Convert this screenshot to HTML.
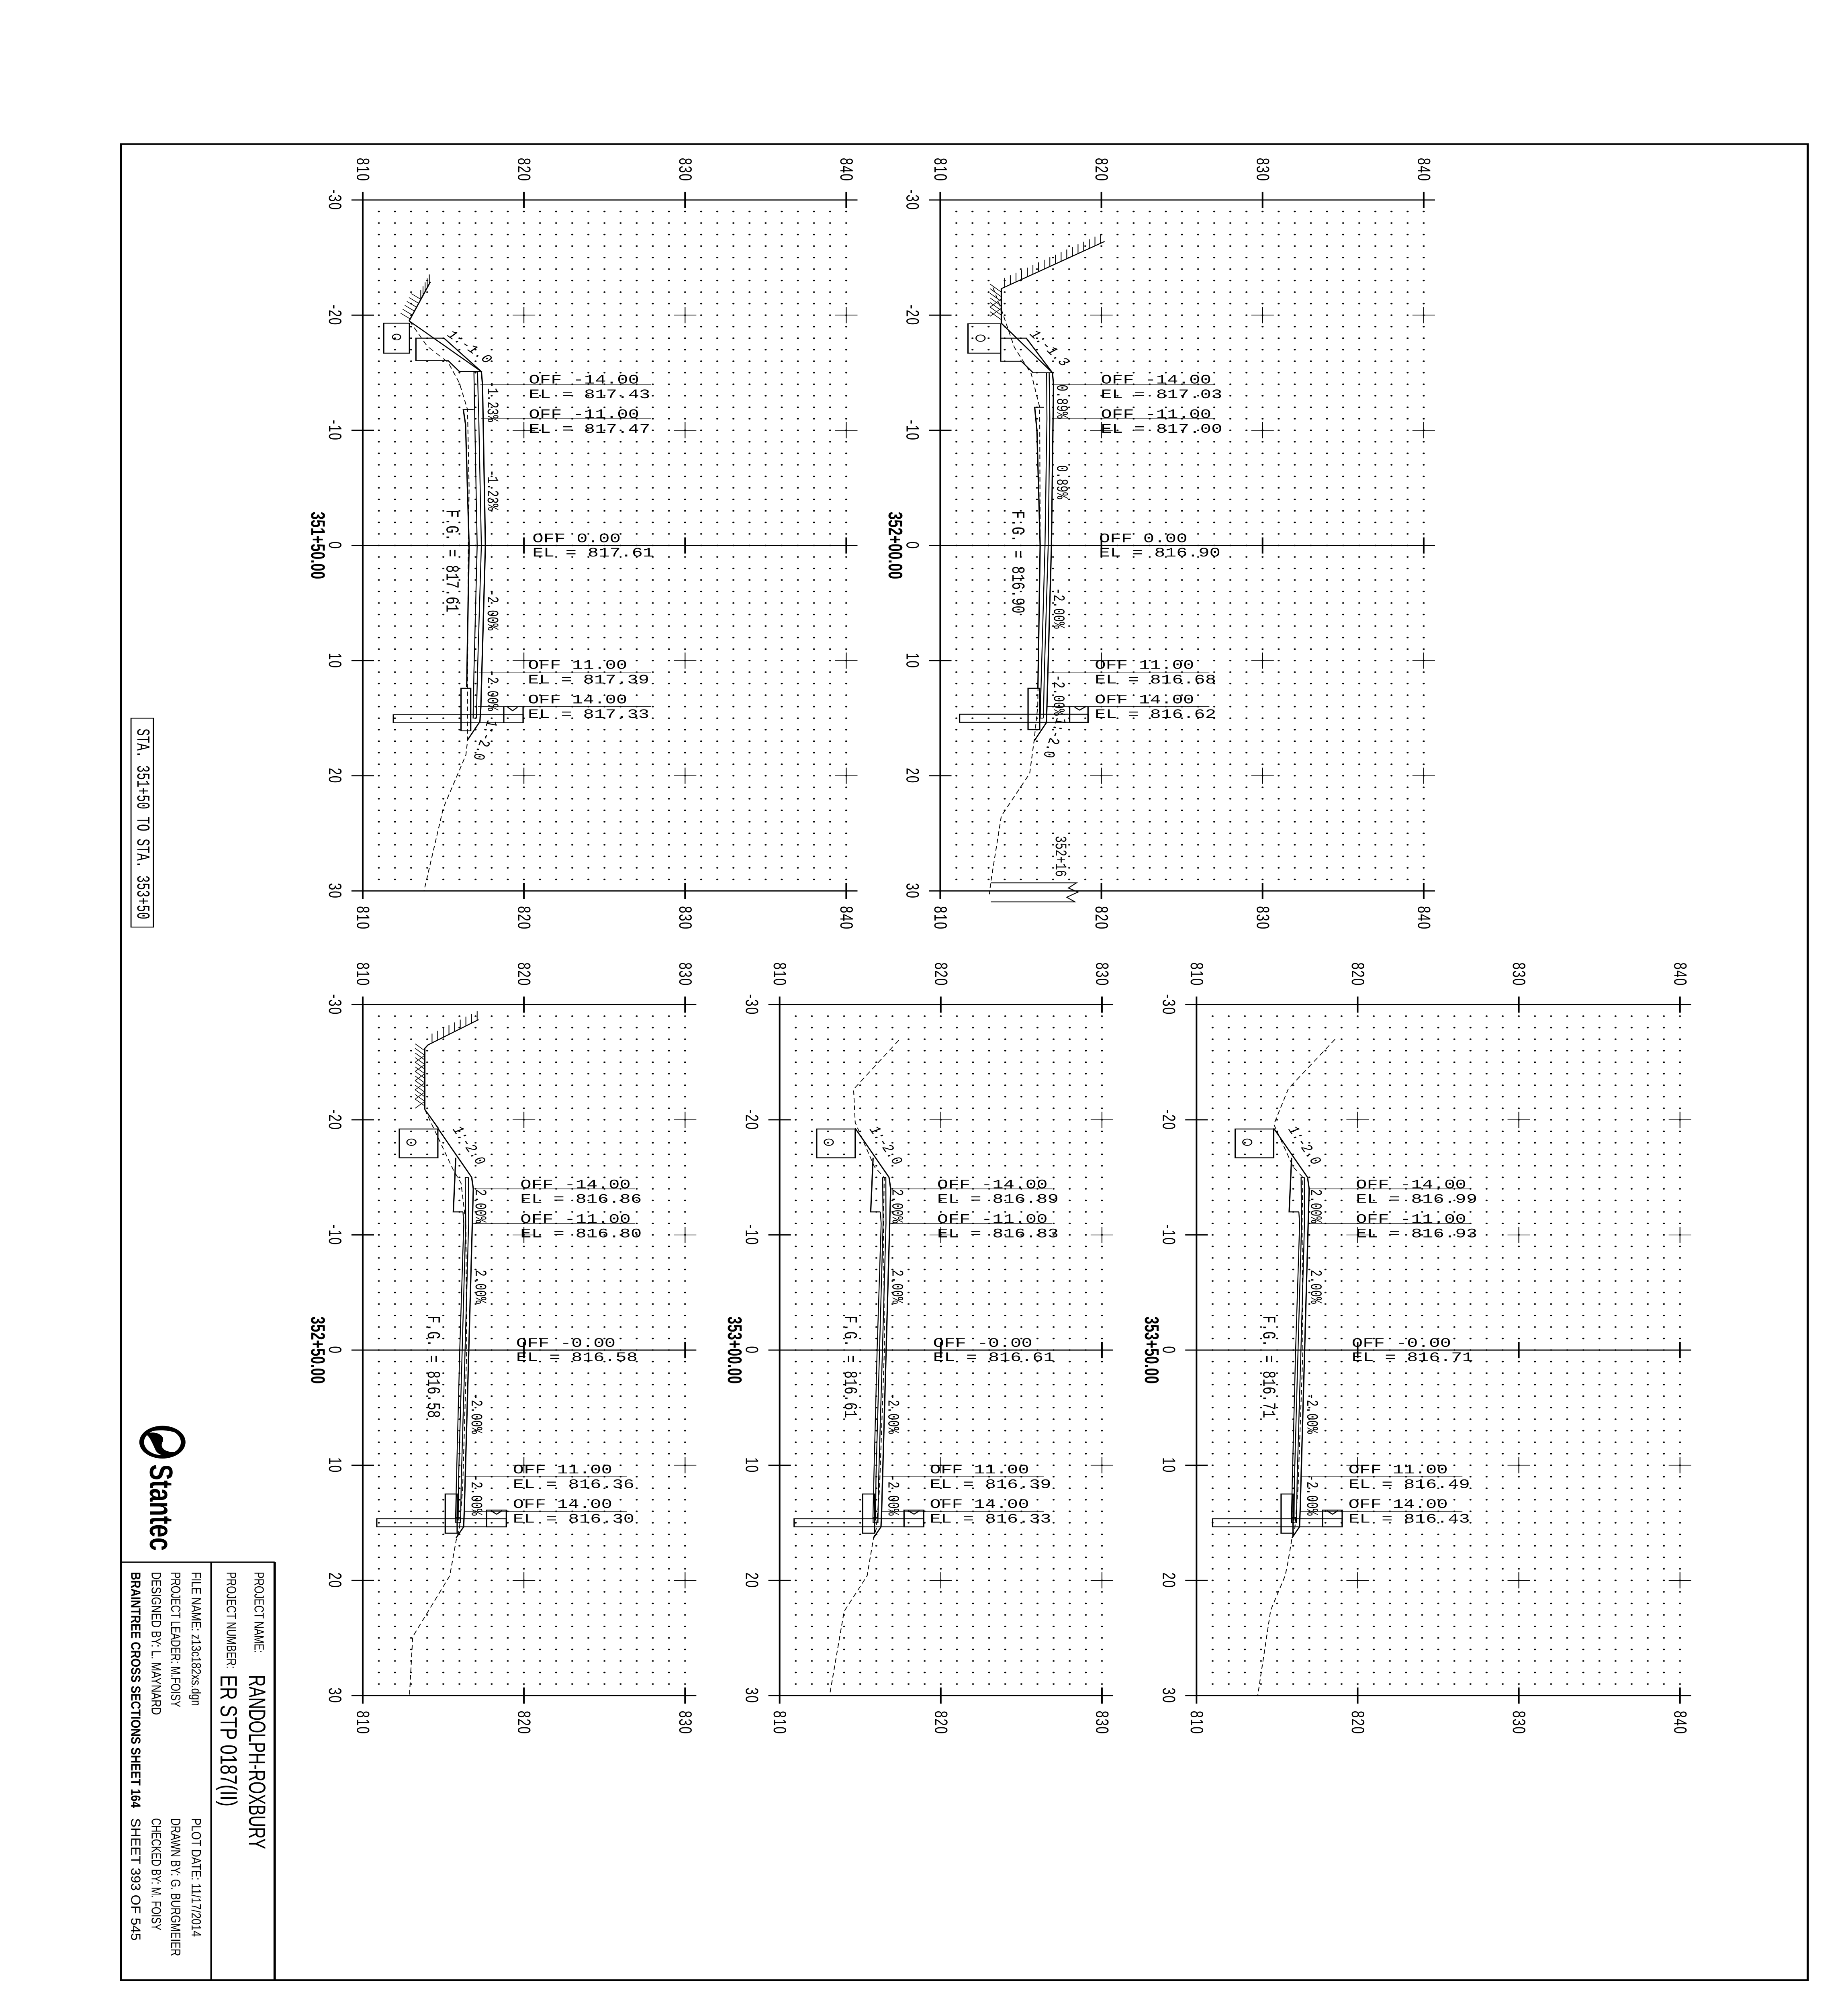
<!DOCTYPE html>
<html><head><meta charset="utf-8"><style>
html,body{margin:0;padding:0;background:#fff;width:100%;height:100%;overflow:hidden;}
svg{display:block;position:absolute;left:0;top:0;width:100vw;height:100vh;}
.ax{font-family:"Liberation Sans",sans-serif;font-size:10px;letter-spacing:0.6px;}
.lb{font-family:"Liberation Mono",monospace;font-size:10.2px;}
.sl{font-family:"Liberation Mono",monospace;font-size:8.8px;}
.st{font-family:"Liberation Sans",sans-serif;font-size:11px;font-weight:bold;}
.tb{font-family:"Liberation Sans",sans-serif;font-size:7.5px;}
</style></head><body>
<svg xmlns="http://www.w3.org/2000/svg" viewBox="0 0 1024 1558" preserveAspectRatio="none">
<defs>
<pattern id="dots" x="-0.5" y="-0.5" width="1" height="1" patternUnits="userSpaceOnUse"><circle cx="0.5" cy="0.5" r="0.065" fill="#000"/></pattern>
<g id="f30" fill="none" stroke="#000">
<rect x="0.5" y="-29.5" width="29.8" height="59" fill="url(#dots)" stroke="none"/>
<path stroke-width="0.1" d="M0 -30.7V30.7M-0.7 -30H30.7M-0.7 0H30.7M-0.7 30H30.7M10 -30.7v1.4M20 -30.7v1.4M30 -30.7v1.4M10 -0.7v1.4M20 -0.7v1.4M30 -0.7v1.4M10 29.3v1.4M20 29.3v1.4M30 29.3v1.4M-0.7 -20h1.4M-0.7 -10h1.4M-0.7 10h1.4M-0.7 20h1.4"/>
<path stroke-width="0.055" d="M9.3 -20h1.4M10 -20.7v1.4M19.3 -20h1.4M20 -20.7v1.4M29.3 -20h1.4M30 -20.7v1.4M9.3 -10h1.4M10 -10.7v1.4M19.3 -10h1.4M20 -10.7v1.4M29.3 -10h1.4M30 -10.7v1.4M9.3 10h1.4M10 9.3v1.4M19.3 10h1.4M20 9.3v1.4M29.3 10h1.4M30 9.3v1.4M9.3 20h1.4M10 19.3v1.4M19.3 20h1.4M20 19.3v1.4M29.3 20h1.4M30 19.3v1.4"/>
</g>
<g id="f20" fill="none" stroke="#000">
<rect x="0.5" y="-29.5" width="19.8" height="59" fill="url(#dots)" stroke="none"/>
<path stroke-width="0.1" d="M0 -30.7V30.7M-0.7 -30H20.7M-0.7 0H20.7M-0.7 30H20.7M10 -30.7v1.4M20 -30.7v1.4M10 -0.7v1.4M20 -0.7v1.4M10 29.3v1.4M20 29.3v1.4M-0.7 -20h1.4M-0.7 -10h1.4M-0.7 10h1.4M-0.7 20h1.4"/>
<path stroke-width="0.055" d="M9.3 -20h1.4M10 -20.7v1.4M19.3 -20h1.4M20 -20.7v1.4M9.3 -10h1.4M10 -10.7v1.4M19.3 -10h1.4M20 -10.7v1.4M9.3 10h1.4M10 9.3v1.4M19.3 10h1.4M20 9.3v1.4M9.3 20h1.4M10 19.3v1.4M19.3 20h1.4M20 19.3v1.4"/>
</g>
<g id="pB" fill="none" stroke="#000" stroke-width="0.08">
<path d="M4.69 -19.26L6.79 -15"/>
<rect x="2.3" y="-19.2" width="2.39" height="2.5"/>
<circle cx="3.05" cy="-18.05" r="0.28" stroke-width="0.07"/>
<path d="M5.8 -16.7L5.65 -12L6.25 -12"/>
<path d="M6.79 -15L6.89 -14L6.83 -11L6.61 0L6.39 11L6.33 14L6.29 15.35"/>
<path d="M6.59 -15L6.6 -11L6.38 0L6.15 11L6.1 14.8" stroke-width="0.06"/>
<path d="M6.39 -15L6.59 -15M6.39 -15L6.42 -11L6.2 0L5.98 11L5.95 14.8" stroke-width="0.06"/>
<path d="M6.25 -12L6.3 -11L6.05 0L5.85 11L5.79 14.6" stroke-width="0.06"/>
<rect x="5.15" y="12.5" width="0.74" height="3.4"/>
<rect x="0.9" y="14.65" width="8.04" height="0.7"/>
<rect x="7.72" y="13.9" width="1.22" height="1.45"/>
<path d="M7.98 13.95L8.34 14.25L8.68 13.95"/>
<rect x="5.8" y="14.55" width="0.3" height="0.45" stroke-width="0.06"/>
<path d="M6.29 15.35L5.83 16.3"/>
</g>
</defs>

<rect x="67" y="111.7" width="934.7" height="1423.9" fill="none" stroke="#000" stroke-width="1.2"/>

<g transform="translate(201,423) scale(8.93)">
<use href="#f30"/>
<g fill="none" stroke="#000" stroke-width="0.08">
<path d="M7.36 -15.1L7.43 -14L7.47 -11L7.61 0L7.39 11L7.33 14L7.27 15.3"/>
<path d="M7.12 -15.1L7.2 -11L7.36 0L7.12 11L7.05 15.0" stroke-width="0.06"/>
<path d="M6.9 -15.1L6.95 -11L7.1 0L6.9 11L6.85 15.0L7.05 15.0" stroke-width="0.06"/>
<path d="M6.88 -11.8L6.24 -11.8L6.38 -10.5L6.6 0L6.45 12.3"/>
<path d="M3.3 -18L5.04 -18L7.36 -15.1L6.0 -15.1L5.3 -16.05L3.3 -16.05Z"/>
<path d="M2.88 -19.5L7.36 -15.1"/>
<rect x="1.3" y="-19.3" width="1.6" height="2.6"/>
<circle cx="2.1" cy="-18.1" r="0.25" stroke-width="0.07"/>
<path d="M2.88 -19.5L4.2 -22.9"/>
<path stroke-width="0.05" d="M2.95 -19.67l-0.6 -0.5M3.08 -20.01l-0.6 -0.5M3.21 -20.35l-0.6 -0.5M3.34 -20.69l-0.6 -0.5M3.47 -21.03l-0.6 -0.5M3.61 -21.37l-0.6 -0.5M3.74 -21.71l0 -0.8M3.87 -22.05l0 -0.8M4.0 -22.39l0 -0.8M4.13 -22.73l0 -0.8M3.6 -21.37l0 -0.8"/>
<path stroke-width="0.05" stroke-dasharray="0.4 0.25" d="M2.9 -19.5L4.0 -17.3L5.3 -15.9L6.0 -14.1L6.5 -11.8L6.6 -5L6.55 0L6.5 12L6.5 17L6.4 18.2L5.0 22.8L3.8 30"/>
<rect x="6.1" y="12.4" width="0.6" height="3.7"/>
<rect x="1.9" y="14.7" width="8.05" height="0.7"/>
<rect x="8.75" y="14.0" width="1.2" height="1.4"/>
<path d="M9.0 14.05L9.3 14.35L9.6 14.05"/>
<path d="M7.27 15.3L6.5 16.9"/>
<path stroke-width="0.05" d="M7.3 -14H17.9M7.35 -11H17.9M7.2 11H17.9M7.15 14H17.9"/>
</g>
</g>

<g transform="translate(521,423) scale(8.93)">
<use href="#f30"/>
<g fill="none" stroke="#000" stroke-width="0.08">
<path d="M6.96 -15L7.03 -14L7.0 -11L6.9 0L6.68 11L6.62 14L6.58 15.4"/>
<path d="M6.76 -15L6.8 -11L6.7 0L6.46 11L6.4 15.0" stroke-width="0.06"/>
<path d="M6.6 -15L6.62 -11L6.5 0L6.28 11L6.2 15L6.4 15" stroke-width="0.06"/>
<path d="M6.44 -12L5.86 -12L6.0 -10L6.2 0L6.06 12.4"/>
<path d="M3.75 -18L5.34 -18L6.96 -15L5.76 -15L5.03 -16L3.75 -16Z"/>
<path d="M3.79 -19.3L6.96 -15"/>
<rect x="1.72" y="-19.25" width="2.03" height="2.55"/>
<circle cx="2.5" cy="-18.0" r="0.28" stroke-width="0.07"/>
<path d="M3.79 -22.3V-19.3M3.79 -22.3L10.2 -26.4"/>
<path stroke-width="0.05" d="M4.0 -22.43v-0.8M4.35 -22.66v-0.8M4.7 -22.88v-0.8M5.05 -23.11v-0.8M5.4 -23.33v-0.8M5.75 -23.55v-0.8M6.1 -23.78v-0.8M6.45 -24.0v-0.8M6.8 -24.23v-0.8M7.15 -24.45v-0.8M7.5 -24.67v-0.8M7.85 -24.9v-0.8M8.2 -25.12v-0.8M8.55 -25.35v-0.8M8.9 -25.57v-0.8M9.25 -25.79v-0.8M9.6 -26.02v-0.8M9.95 -26.24v-0.8M3.79 -22.0l-0.7 -0.7M3.79 -21.6l-0.7 -0.7M3.79 -21.2l-0.7 -0.7M3.79 -20.8l-0.7 -0.7M3.79 -20.4l-0.7 -0.7M3.79 -20.0l-0.7 -0.7M3.79 -19.6l-0.7 -0.7M3.79 -21.4l-0.7 0.7M3.79 -20.6l-0.7 0.7"/>
<path stroke-width="0.05" stroke-dasharray="0.4 0.25" d="M3.27 -22.4L3.79 -20.5L4.6 -17.2L5.65 -14.9L6.17 -12L6.2 0L6.05 14L5.82 17L5.55 19.8L3.79 23.5L3.13 29.3L3.05 30.3"/>
<rect x="5.45" y="12.4" width="0.72" height="3.6"/>
<rect x="1.2" y="14.66" width="7.97" height="0.7"/>
<rect x="8.03" y="14.0" width="1.14" height="1.36"/>
<path d="M8.34 14.05L8.65 14.3L8.96 14.05"/>
<path d="M6.58 15.4L5.82 17"/>
<path d="M3.13 29.3H8.45L7.95 29.75L8.55 30.1L7.85 30.55L8.35 30.95H3.13" stroke-width="0.07"/>
<path stroke-width="0.05" d="M7.0 -14H17.04M7.0 -11H17.04M6.7 11H16.7M6.65 14H16.7"/>
</g>
</g>

<g transform="translate(201,1047) scale(8.93)">
<use href="#f20"/>
<use href="#pB" transform="translate(-0.03,0)"/>
<g fill="none" stroke="#000" stroke-width="0.08">
<path d="M3.85 -20.9L4.69 -19.26"/>
<path d="M3.85 -20.9V-26.2L4.05 -26.5L7.19 -28.7"/>
<path stroke-width="0.05" d="M4.3 -26.68v-0.8M4.65 -26.92v-0.8M5.0 -27.17v-0.8M5.35 -27.41v-0.8M5.7 -27.66v-0.8M6.05 -27.9v-0.8M6.4 -28.15v-0.8M6.75 -28.39v-0.8M7.1 -28.64v-0.8M3.85 -26.0l-0.6 -0.6M3.85 -25.6l-0.6 -0.6M3.85 -25.2l-0.6 -0.6M3.85 -24.8l-0.6 -0.6M3.85 -24.4l-0.6 -0.6M3.85 -24.0l-0.6 -0.6M3.85 -23.6l-0.6 -0.6M3.85 -23.2l-0.6 -0.6M3.85 -22.8l-0.6 -0.6M3.85 -22.4l-0.6 -0.6M3.85 -22.0l-0.6 -0.6M3.85 -21.6l-0.6 -0.6M3.85 -21.2l-0.6 -0.6M3.85 -25.6l-0.6 0.6M3.85 -24.8l-0.6 0.6M3.85 -24.0l-0.6 0.6M3.85 -23.2l-0.6 0.6M3.85 -22.4l-0.6 0.6M3.85 -21.6l-0.6 0.6"/>
<path stroke-width="0.05" stroke-dasharray="0.4 0.25" d="M3.85 -20.9L5.6 -15.7L6.1 -14.5L6.4 -11L6.45 0L6.2 12L6.0 15.5L5.8 16.5L5.4 19.6L3.1 24.9L2.9 30"/>
<path stroke-width="0.05" d="M6.85 -14H16.9M6.8 -11H16.9M6.35 11H16.4M6.3 14H16.4"/>
</g>
</g>

<g transform="translate(432,1047) scale(8.93)">
<use href="#f20"/>
<use href="#pB"/>
<g fill="none" stroke="#000">
<path stroke-width="0.05" stroke-dasharray="0.4 0.25" d="M7.39 -26.9L4.59 -22.65L4.69 -19.76L5.89 -15.9L6.49 -15L6.45 -11L6.5 0L6.2 12L6.0 15.5L5.83 16.3L5.55 18.6L5.43 19.6L4.0 22.7L3.1 30"/>
<path stroke-width="0.05" d="M6.9 -14H16.9M6.85 -11H16.9M6.4 11H16.4M6.35 14H16.4"/>
</g>
</g>

<g transform="translate(663,1047) scale(8.93)">
<use href="#f30"/>
<use href="#pB" transform="translate(0.1,0)"/>
<g fill="none" stroke="#000">
<path stroke-width="0.05" stroke-dasharray="0.4 0.25" d="M8.6 -27L5.7 -22.7L4.8 -19.6L6.0 -15.9L6.6 -15L6.55 -11L6.6 0L6.3 12L6.1 15.5L5.93 16.3L5.65 18.6L5.5 19.6L4.6 22.6L3.8 30"/>
<path stroke-width="0.05" d="M7.0 -14H17.0M6.95 -11H17.0M6.5 11H16.5M6.45 14H16.5"/>
</g>
</g>

<g class="ax" text-anchor="middle" dominant-baseline="central" fill="#000">
<text transform="translate(201,131.6) rotate(90)">810</text>
<text transform="translate(290.3,131.6) rotate(90)">820</text>
<text transform="translate(379.6,131.6) rotate(90)">830</text>
<text transform="translate(468.9,131.6) rotate(90)">840</text>
<text transform="translate(201,711.9) rotate(90)">810</text>
<text transform="translate(290.3,711.9) rotate(90)">820</text>
<text transform="translate(379.6,711.9) rotate(90)">830</text>
<text transform="translate(468.9,711.9) rotate(90)">840</text>
<text transform="translate(185.5,155.1) rotate(90)">-30</text>
<text transform="translate(185.5,244.4) rotate(90)">-20</text>
<text transform="translate(185.5,333.7) rotate(90)">-10</text>
<text transform="translate(185.5,423) rotate(90)">0</text>
<text transform="translate(185.5,512.3) rotate(90)">10</text>
<text transform="translate(185.5,601.6) rotate(90)">20</text>
<text transform="translate(185.5,690.9) rotate(90)">30</text>
<text transform="translate(521,131.6) rotate(90)">810</text>
<text transform="translate(610.3,131.6) rotate(90)">820</text>
<text transform="translate(699.6,131.6) rotate(90)">830</text>
<text transform="translate(788.9,131.6) rotate(90)">840</text>
<text transform="translate(521,711.9) rotate(90)">810</text>
<text transform="translate(610.3,711.9) rotate(90)">820</text>
<text transform="translate(699.6,711.9) rotate(90)">830</text>
<text transform="translate(788.9,711.9) rotate(90)">840</text>
<text transform="translate(505.5,155.1) rotate(90)">-30</text>
<text transform="translate(505.5,244.4) rotate(90)">-20</text>
<text transform="translate(505.5,333.7) rotate(90)">-10</text>
<text transform="translate(505.5,423) rotate(90)">0</text>
<text transform="translate(505.5,512.3) rotate(90)">10</text>
<text transform="translate(505.5,601.6) rotate(90)">20</text>
<text transform="translate(505.5,690.9) rotate(90)">30</text>
<text transform="translate(201,755.6) rotate(90)">810</text>
<text transform="translate(290.3,755.6) rotate(90)">820</text>
<text transform="translate(379.6,755.6) rotate(90)">830</text>
<text transform="translate(201,1335.9) rotate(90)">810</text>
<text transform="translate(290.3,1335.9) rotate(90)">820</text>
<text transform="translate(379.6,1335.9) rotate(90)">830</text>
<text transform="translate(185.5,779.1) rotate(90)">-30</text>
<text transform="translate(185.5,868.4) rotate(90)">-20</text>
<text transform="translate(185.5,957.7) rotate(90)">-10</text>
<text transform="translate(185.5,1047) rotate(90)">0</text>
<text transform="translate(185.5,1136.3) rotate(90)">10</text>
<text transform="translate(185.5,1225.6) rotate(90)">20</text>
<text transform="translate(185.5,1314.9) rotate(90)">30</text>
<text transform="translate(432,755.6) rotate(90)">810</text>
<text transform="translate(521.3,755.6) rotate(90)">820</text>
<text transform="translate(610.6,755.6) rotate(90)">830</text>
<text transform="translate(432,1335.9) rotate(90)">810</text>
<text transform="translate(521.3,1335.9) rotate(90)">820</text>
<text transform="translate(610.6,1335.9) rotate(90)">830</text>
<text transform="translate(416.5,779.1) rotate(90)">-30</text>
<text transform="translate(416.5,868.4) rotate(90)">-20</text>
<text transform="translate(416.5,957.7) rotate(90)">-10</text>
<text transform="translate(416.5,1047) rotate(90)">0</text>
<text transform="translate(416.5,1136.3) rotate(90)">10</text>
<text transform="translate(416.5,1225.6) rotate(90)">20</text>
<text transform="translate(416.5,1314.9) rotate(90)">30</text>
<text transform="translate(663,755.6) rotate(90)">810</text>
<text transform="translate(752.3,755.6) rotate(90)">820</text>
<text transform="translate(841.6,755.6) rotate(90)">830</text>
<text transform="translate(930.9,755.6) rotate(90)">840</text>
<text transform="translate(663,1335.9) rotate(90)">810</text>
<text transform="translate(752.3,1335.9) rotate(90)">820</text>
<text transform="translate(841.6,1335.9) rotate(90)">830</text>
<text transform="translate(930.9,1335.9) rotate(90)">840</text>
<text transform="translate(647.5,779.1) rotate(90)">-30</text>
<text transform="translate(647.5,868.4) rotate(90)">-20</text>
<text transform="translate(647.5,957.7) rotate(90)">-10</text>
<text transform="translate(647.5,1047) rotate(90)">0</text>
<text transform="translate(647.5,1136.3) rotate(90)">10</text>
<text transform="translate(647.5,1225.6) rotate(90)">20</text>
<text transform="translate(647.5,1314.9) rotate(90)">30</text>
</g>

<g class="st" text-anchor="middle" dominant-baseline="central">
<text transform="translate(176,423) rotate(90)">351+50.00</text>
<text transform="translate(496,423) rotate(90)">352+00.00</text>
<text transform="translate(176,1047) rotate(90)">352+50.00</text>
<text transform="translate(407,1047) rotate(90)">353+00.00</text>
<text transform="translate(638,1047) rotate(90)">353+50.00</text>
</g>

<g class="lb" fill="#000">
<text x="293" y="297.5">OFF -14.00</text><text x="293" y="308.8">EL = 817.43</text>
<text x="293" y="324.3">OFF -11.00</text><text x="293" y="335.6">EL = 817.47</text>
<text x="295" y="420.5">OFF 0.00</text><text x="295" y="431.5">EL = 817.61</text>
<text x="292.5" y="518.7">OFF 11.00</text><text x="292.5" y="530">EL = 817.39</text>
<text x="292.5" y="545.5">OFF 14.00</text><text x="292.5" y="556.8">EL = 817.33</text>
<text x="610" y="297.5">OFF -14.00</text><text x="610" y="308.8">EL = 817.03</text>
<text x="610" y="324.3">OFF -11.00</text><text x="610" y="335.6">EL = 817.00</text>
<text x="609" y="420.5">OFF 0.00</text><text x="609" y="431.5">EL = 816.90</text>
<text x="606.6" y="518.7">OFF 11.00</text><text x="606.6" y="530">EL = 816.68</text>
<text x="606.6" y="545.5">OFF 14.00</text><text x="606.6" y="556.8">EL = 816.62</text>
<text x="288.3" y="921.5">OFF -14.00</text><text x="288.3" y="932.8">EL = 816.86</text>
<text x="288.3" y="948.3">OFF -11.00</text><text x="288.3" y="959.6">EL = 816.80</text>
<text x="286" y="1044.5">OFF -0.00</text><text x="286" y="1055.5">EL = 816.58</text>
<text x="284.2" y="1142.7">OFF 11.00</text><text x="284.2" y="1154">EL = 816.36</text>
<text x="284.2" y="1169.5">OFF 14.00</text><text x="284.2" y="1180.8">EL = 816.30</text>
<text x="519.3" y="921.5">OFF -14.00</text><text x="519.3" y="932.8">EL = 816.89</text>
<text x="519.3" y="948.3">OFF -11.00</text><text x="519.3" y="959.6">EL = 816.83</text>
<text x="517" y="1044.5">OFF -0.00</text><text x="517" y="1055.5">EL = 816.61</text>
<text x="515.2" y="1142.7">OFF 11.00</text><text x="515.2" y="1154">EL = 816.39</text>
<text x="515.2" y="1169.5">OFF 14.00</text><text x="515.2" y="1180.8">EL = 816.33</text>
<text x="751.3" y="921.5">OFF -14.00</text><text x="751.3" y="932.8">EL = 816.99</text>
<text x="751.3" y="948.3">OFF -11.00</text><text x="751.3" y="959.6">EL = 816.93</text>
<text x="749" y="1044.5">OFF -0.00</text><text x="749" y="1055.5">EL = 816.71</text>
<text x="747.2" y="1142.7">OFF 11.00</text><text x="747.2" y="1154">EL = 816.49</text>
<text x="747.2" y="1169.5">OFF 14.00</text><text x="747.2" y="1180.8">EL = 816.43</text>
</g>

<g class="sl" text-anchor="middle" dominant-baseline="central">
<text transform="translate(259.9,269.4) rotate(44.5)">1:-1.0</text>
<text transform="translate(272.4,311.4) rotate(90)">-1.23%</text>
<text transform="translate(272.4,380.1) rotate(90)">-1.23%</text>
<text transform="translate(272.4,473) rotate(90)">-2.00%</text>
<text transform="translate(272.4,535.5) rotate(90)">-2.00%</text>
<text transform="translate(268.4,573.9) rotate(105)">1:-2.0</text>
<text transform="translate(581.2,270.3) rotate(53.6)">1:-1.3</text>
<text transform="translate(588,311.4) rotate(90)">0.89%</text>
<text transform="translate(588,373.9) rotate(90)">0.89%</text>
<text transform="translate(586.2,471.7) rotate(90)">-2.00%</text>
<text transform="translate(586.2,539.1) rotate(90)">-2.00%</text>
<text transform="translate(584,572.1) rotate(104)">1:-2.0</text>
<text transform="translate(587.2,664.1) rotate(90)">352+16</text>
<text transform="translate(259.5,888.5) rotate(63.5)">1:-2.0</text>
<text transform="translate(265.7,935.4) rotate(90)">2.00%</text>
<text transform="translate(265.7,997.9) rotate(90)">2.00%</text>
<text transform="translate(263.5,1096.1) rotate(90)">-2.00%</text>
<text transform="translate(263.5,1159.5) rotate(90)">-2.00%</text>
<text transform="translate(490.5,888.5) rotate(63.5)">1:-2.0</text>
<text transform="translate(496.7,935.4) rotate(90)">2.00%</text>
<text transform="translate(496.7,997.9) rotate(90)">2.00%</text>
<text transform="translate(494.5,1096.1) rotate(90)">-2.00%</text>
<text transform="translate(494.5,1159.5) rotate(90)">-2.00%</text>
<text transform="translate(722.5,888.5) rotate(63.5)">1:-2.0</text>
<text transform="translate(728.7,935.4) rotate(90)">2.00%</text>
<text transform="translate(728.7,997.9) rotate(90)">2.00%</text>
<text transform="translate(726.5,1096.1) rotate(90)">-2.00%</text>
<text transform="translate(726.5,1159.5) rotate(90)">-2.00%</text>
</g>

<g class="lb" dominant-baseline="central">
<text transform="translate(250.1,395.3) rotate(90)">F.G. = 817.61</text>
<text transform="translate(563.7,396.2) rotate(90)">F.G. = 816.90</text>
<text transform="translate(239.8,1020.2) rotate(90)">F.G. = 816.58</text>
<text transform="translate(470.8,1020.2) rotate(90)">F.G. = 816.61</text>
<text transform="translate(702.7,1020.2) rotate(90)">F.G. = 816.71</text>
</g>

<rect x="72.6" y="557" width="12.4" height="162" fill="none" stroke="#000" stroke-width="0.6"/>
<text class="lb" transform="translate(78.8,565) rotate(90)" dominant-baseline="central" font-size="9.5" textLength="148" lengthAdjust="spacingAndGlyphs">STA. 351+50 TO STA. 353+50</text>

<g stroke="#000" fill="none">
<path d="M67 1211.5H152.2" stroke-width="1"/>
<path d="M117 1211.5V1535.6" stroke-width="0.9"/>
<path d="M152.2 1211.5V1535.6" stroke-width="1.3"/>
</g>
<g class="tb" dominant-baseline="central" fill="#000">
<text transform="translate(143.3,1219) rotate(90)" textLength="63" lengthAdjust="spacingAndGlyphs">PROJECT NAME:</text>
<text transform="translate(142.5,1299) rotate(90)" font-size="13" textLength="135" lengthAdjust="spacingAndGlyphs">RANDOLPH-ROXBURY</text>
<text transform="translate(128,1219) rotate(90)" textLength="75" lengthAdjust="spacingAndGlyphs">PROJECT NUMBER:</text>
<text transform="translate(126.7,1299) rotate(90)" font-size="13" textLength="102" lengthAdjust="spacingAndGlyphs">ER STP 0187(II)</text>
<text transform="translate(108.5,1219) rotate(90)" textLength="104" lengthAdjust="spacingAndGlyphs">FILE NAME: z13c182xs.dgn</text>
<text transform="translate(108.5,1410) rotate(90)" textLength="92" lengthAdjust="spacingAndGlyphs">PLOT DATE: 11/17/2014</text>
<text transform="translate(97.1,1219) rotate(90)" textLength="105" lengthAdjust="spacingAndGlyphs">PROJECT LEADER: M.FOISY</text>
<text transform="translate(97.1,1410) rotate(90)" textLength="107" lengthAdjust="spacingAndGlyphs">DRAWN BY:  G. BURGMEIER</text>
<text transform="translate(86.3,1219) rotate(90)" textLength="111" lengthAdjust="spacingAndGlyphs">DESIGNED BY:     L. MAYNARD</text>
<text transform="translate(86.3,1410) rotate(90)" textLength="87" lengthAdjust="spacingAndGlyphs">CHECKED BY: M. FOISY</text>
<text transform="translate(75,1219) rotate(90)" font-weight="bold" textLength="183" lengthAdjust="spacingAndGlyphs">BRAINTREE CROSS SECTIONS SHEET 164</text>
<text transform="translate(75,1410) rotate(90)" textLength="95" lengthAdjust="spacingAndGlyphs">SHEET    393    OF    545</text>
</g>

<g>
<ellipse cx="90" cy="1118.4" rx="12.8" ry="12.7" fill="#000"/>
<ellipse cx="90" cy="1118.4" rx="10.2" ry="10.1" fill="#fff"/>
<path d="M80.5 1112 C 86 1109, 92 1113, 90 1118.4 C 88 1124, 94 1128, 99.5 1125 C 97 1130, 88 1131, 86 1124 C 84 1118, 83 1114, 80.5 1112Z" fill="#000"/>
<path d="M80 1111 C 84 1106, 95 1105, 99.8 1113 C 96 1109, 88 1108, 80 1111Z" fill="#000"/>
</g>
<text transform="translate(89.4,1135.6) rotate(90)" dominant-baseline="central" font-family="Liberation Sans, sans-serif" font-weight="bold" font-size="18" textLength="67" lengthAdjust="spacingAndGlyphs">Stantec</text>
</svg>
</body></html>
